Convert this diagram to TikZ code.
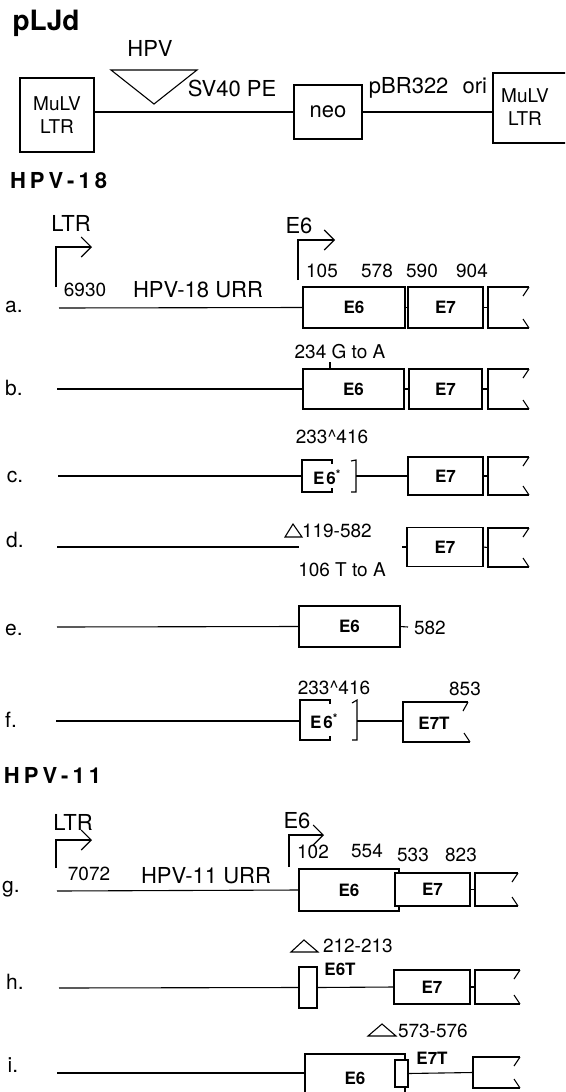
\documentclass[tikz,border=0pt]{standalone}
\usepackage{fontspec}
\setmainfont{TeX Gyre Heros}
\usetikzlibrary{arrows.meta}
\newcommand\flagend[5]{%
  \draw (#2,#3) -- (#1,#3) -- (#1,#4) -- (#2,#4);
  \draw (#2,#3) -- ++(-6,9);
  \draw (#2,#4) -- ++(-6,-9);
  \coordinate (#5) at (#1,{(#3+#4)/2});}
\newcommand\spc[1]{\kern#1pt\relax}
\begin{document}
\begin{tikzpicture}[x=1pt,y=-1pt,line width=1.1pt,
  every node/.style={inner sep=0pt,outer sep=0pt},
  txtL/.style={font=\fontsize{22}{26}\selectfont},
  txtN/.style={font=\fontsize{19}{22}\selectfont},
  rowL/.style={font=\fontsize{21}{23}\selectfont},
  geneB/.style={draw,fill=white,font=\bfseries\fontsize{17}{19}\selectfont},
  plainB/.style={draw,fill=white},
  hdg/.style={font=\bfseries\fontsize{22}{25}\selectfont,anchor=west},
  bentarr/.style={-{Straight Barb[length=10pt,width=20pt]}},
  mbox/.style={draw,fill=white,align=center,font=\fontsize{19}{23}\selectfont}]
\useasboundingbox (0,0) rectangle (565,1092);
\clip (0,0) rectangle (565,1092);

% ---------------- pLJd map ----------------
\node[font=\bfseries\fontsize{28}{31}\selectfont] (plj) at (46,23) {pLJd};
\node[txtL] (hpvins) at (150,48) {HPV};
\draw (111,70) -- (197,70) -- (154,104) -- cycle;
\node[mbox,minimum width=74pt,minimum height=74pt] (ltrL) at (57,115) {MuLV\\LTR};
\node[draw,fill=white,minimum width=68pt,minimum height=54pt,font=\fontsize{22}{26}\selectfont] (neo) at (328,112) {neo};
\node[draw,minimum width=82pt,minimum height=70pt] (ltrR) at (534,108) {};
\node[align=center,font=\fontsize{19}{23}\selectfont] (ltrRt) at (525,107) {MuLV\\LTR};
\draw (ltrL.east |- neo.west) -- (neo.west);
\draw (neo.east) -- (ltrR.west |- neo.east);
\node[txtL] (sv40) at (232,88) {SV40 PE};
\node[txtL] (pbr) at (428,88) {pBR322\hspace{8pt} ori};

% ---------------- HPV-18 ----------------
\node[hdg] (h18) at (10,181) {H\spc{4}P\spc{4}V\spc{4}-\spc{4}1\spc{4}8};

% row a
\node[txtL] (ltrlabA) at (71,223) {LTR};
\coordinate (la0) at (56,287); \coordinate (la1) at (92,247);
\draw[bentarr] (la0) |- (la1);
\node[txtN] (n6930) at (85,290) {6930};
\node[txtL] (urr18) at (198,290) {HPV-18 URR};
\node[rowL] (ra) at (14,307) {a.};
\node[txtL] (e6labA) at (299,226) {E6};
\coordinate (pa0) at (298,280); \coordinate (pa1) at (335,240);
\draw[bentarr] (pa0) |- (pa1);
\node[txtN] at (322,271) {105};
\node[txtN] at (377,271) {578};
\node[txtN] at (422,271) {590};
\node[txtN] at (472,271) {904};
\coordinate (sa) at (59,308);
\node[geneB,minimum width=102pt,minimum height=41pt] (e6a) at (354,307.5) {E6};
\node[geneB,minimum width=75pt,minimum height=41pt] (e7a) at (445.5,307.5) {E7};
\flagend{488}{529}{287}{328}{fa}
\draw (sa) -- (e6a.west);
\draw (e6a.east) -- (e7a.west);
\draw (e7a.east) -- (fa);

% row b
\node[rowL] (rb) at (14,388) {b.};
\node[txtN] (mutb) at (340,352) {234 G to A};
\coordinate (sb) at (57,389);
\node[geneB,minimum width=101pt,minimum height=40pt] (e6b) at (353.5,389) {E6};
\node[geneB,minimum width=73pt,minimum height=40pt] (e7b) at (445.5,389) {E7};
\draw (330,362) -- (330,369);
\flagend{488}{529}{369}{409}{fb}
\draw (sb) -- (e6b.west);
\draw (e6b.east) -- (e7b.west);
\draw (e7b.east) -- (fb);

% row c
\node[rowL] (rc) at (15,477) {c.};
\node[txtN] (splc) at (332,437) {233\textasciicircum416};
\coordinate (sc) at (58,476); \coordinate (cl) at (302,476); \coordinate (cr) at (356,476);
\draw (332,464) -- (332,460) -- (302,460) -- (302,492) -- (332,492) -- (332,488);
\draw (351,461) -- (356,460) -- (356,492) -- (351,492);
\node[font=\bfseries\fontsize{17}{19}\selectfont] (e6sc) at (327,477) {E\spc{2}6\textsuperscript{*}};
\node[geneB,minimum width=75pt,minimum height=38pt] (e7c) at (445.5,476) {E7};
\flagend{488}{529}{457}{495}{fc}
\draw (sc) -- (cl);
\draw (cr) -- (e7c.west);
\draw (e7c.east) -- (fc);

% row d
\node[rowL] (rd) at (15,540) {d.};
\coordinate (sd) at (57,547); \coordinate (de) at (299,547); \coordinate (dt) at (402,547);
\draw (sd) -- (de);
\draw (285,537) -- (293,524) -- (302,537) -- cycle;
\node[txtN,anchor=west] (dl119) at (302,531) {119-582};
\node[txtN] (d106) at (342,570) {106 T to A};
\node[geneB,minimum width=76pt,minimum height=39pt] (e7d) at (445,547) {E7};
\flagend{488}{529}{528}{567}{fd}
\draw (dt) -- (e7d.west);
\draw (e7d.east) -- (fd);

% row e
\node[rowL] (re) at (14,630) {e.};
\coordinate (se) at (57,627); \coordinate (ee) at (408,627);
\node[geneB,minimum width=101pt,minimum height=41pt] (e6e) at (349.5,626.5) {E6};
\draw (se) -- (e6e.west);
\draw (e6e.east) -- (ee);
\node[txtN,anchor=west] (n582) at (414,628) {582};

% row f
\node[rowL] (rf) at (11,720) {f.};
\node[txtN] (splf) at (334,688) {233\textasciicircum416};
\node[txtN] (n853) at (465,689) {853};
\coordinate (sf) at (56,721); \coordinate (fl) at (300,721); \coordinate (frr) at (357,721); \coordinate (e7tl) at (403,721);
\draw (330,704) -- (330,700) -- (300,700) -- (300,740) -- (330,740) -- (330,736);
\draw (352,703) -- (357,700) -- (357,740) -- (352,740);
\node[font=\bfseries\fontsize{17}{19}\selectfont] (e6sf) at (324,721) {E\spc{2}6\textsuperscript{*}};
\draw (468,702) -- (403,702) -- (403,742) -- (470,742);
\draw (468,702) -- (463,711);
\draw (470,742) -- (464,733);
\node[font=\bfseries\fontsize{17}{19}\selectfont] (e7tf) at (434,723) {E7T};
\draw (sf) -- (fl);
\draw (frr) -- (e7tl);

% ---------------- HPV-11 ----------------
\node[hdg] (h11) at (4,775) {H\spc{4}P\spc{4}V\spc{4}-\spc{4}1\spc{4}1};

% row g
\node[txtL] (ltrlabG) at (73,822) {LTR};
\coordinate (lg0) at (56,868); \coordinate (lg1) at (92,840);
\draw[bentarr] (lg0) |- (lg1);
\node[txtN] (n7072) at (89,874) {7072};
\node[txtL] (urr11) at (206,876) {HPV-11 URR};
\node[rowL] (rg) at (11,889) {g.};
\node[txtL] (e6labG) at (297,821) {E6};
\coordinate (pg0) at (289,867); \coordinate (pg1) at (324,835);
\draw[bentarr] (pg0) |- (pg1);
\node[txtN] at (313,852) {102};
\node[txtN] at (367,851) {554};
\node[txtN] at (413,855) {533};
\node[txtN] at (461,855) {823};
\coordinate (sg) at (57,891);
\node[geneB,minimum width=100pt,minimum height=42pt] (e6g) at (349,890) {E6};
\node[geneB,minimum width=75pt,minimum height=33pt] (e7g) at (432.5,889.5) {E7};
\flagend{475}{518}{873}{906}{fg}
\draw (sg) -- (e6g.west);
\draw (e7g.east) -- (fg);

% row h
\draw (291,952) -- (304,940) -- (318,952) -- cycle;
\node[txtN,anchor=west] (d212) at (323,946) {212-213};
\node[rowL] (rh) at (15,982) {h.};
\coordinate (sh) at (59,988);
\node[plainB,minimum width=18pt,minimum height=41pt] (e6th) at (308,987.5) {};
\node[font=\bfseries\fontsize{17}{19}\selectfont] (e6tl) at (340,969) {E6T};
\node[geneB,minimum width=76pt,minimum height=34pt] (e7h) at (432,987) {E7};
\flagend{475}{520}{970}{1004}{fh}
\draw (sh) -- (e6th.west);
\draw (e6th.east) -- (e7h.west);
\draw (e7h.east) -- (fh);

% row i
\draw (368,1036) -- (382,1024) -- (396,1036) -- cycle;
\node[txtN,anchor=west] (d573) at (398,1031) {573-576};
\node[rowL] (ri) at (13,1065) {i.};
\coordinate (si) at (57,1073);
\node[geneB,minimum width=100pt,minimum height=52pt] (e6i) at (355,1080) {};
\node[font=\bfseries\fontsize{17}{19}\selectfont] (e6it) at (355,1078) {E6};
\node[plainB,minimum width=13pt,minimum height=27pt] (e7ti) at (401.5,1073.5) {};
\node[font=\bfseries\fontsize{17}{19}\selectfont] (e7tl2) at (432,1058) {E7T};
\flagend{473}{520}{1057}{1088}{fi}
\draw (si) -- (e6i.west |- si);
\draw (e7ti.east) -- (fi);
\end{tikzpicture}
\end{document}
